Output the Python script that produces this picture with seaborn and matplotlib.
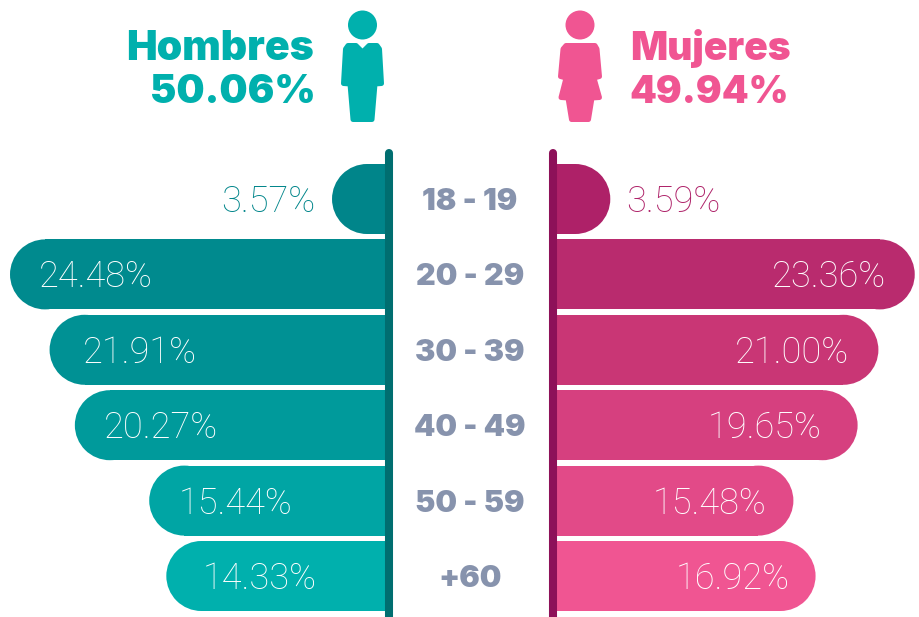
import numpy as np
import pandas as pd
import seaborn as sns
import matplotlib
matplotlib.use('Agg')
import matplotlib.pyplot as plt
from matplotlib.patches import Ellipse, Circle, Polygon

# data
ages = ['18 - 19', '20 - 29', '30 - 39', '40 - 49', '50 - 59', '+60']
hombres = [3.57, 24.48, 21.91, 20.27, 15.44, 14.33]
mujeres = [3.59, 23.36, 21.00, 19.65, 15.48, 16.92]
colors_h = ['#00858a', '#008a8e', '#009194', '#009a9b', '#00a5a4', '#00b0ad']
colors_m = ['#ae2168', '#b92b6e', '#c93675', '#d6407f', '#e24a88', '#f05592']
titles = [('Hombres', '50.06%'), ('Mujeres', '49.94%')]

W, H = 919, 617
PX = 15.4        # pixels per percent
STEP = 75.4      # pixels between rows
TOP = 150
RAD = 35
LEFT0 = 387      # zero of each side, hidden under the dark lines
RIGHT0 = 555
TEAL = '#00b0ad'
PINK = '#f05592'
GREY = '#8793ad'
LIGHT = dict(family='Roboto', weight='light', fontsize=26)
BOLD = dict(family='Inter', weight='black')

# how far the labels sit from the end of their bar, pixels
pad_h = [-17, 29, 33, 29, 30, 36]
pad_m = [16, -29, -29, -36, -27, -26]

df = pd.DataFrame({'age': ages, 'h': hombres, 'm': mujeres})

sns.set_theme(style='white')
fig = plt.figure(figsize=(W / 100, H / 100), dpi=100)


def make_ax(x0, x1):
    ax = fig.add_axes([x0 / W, 0, (x1 - x0) / W, (H - TOP) / H])
    ax.patch.set_alpha(0)
    return ax


def round_bars(ax, palette):
    # shorten each seaborn bar and put a half ellipse on its outer end
    r = RAD / PX
    for p, c in zip(list(ax.patches), palette):
        v = p.get_width()
        p.set_width(v - r)
        p.set_edgecolor('none')
        ax.add_patch(Ellipse((v - r, p.get_y() + p.get_height() / 2), 2 * r, p.get_height(),
                             fc=c, ec='none'))


ax_h = make_ax(0, LEFT0)
sns.barplot(df, y='age', x='h', hue='age', palette=colors_h, width=70 / STEP, saturation=1,
            legend=False, dodge=False, ax=ax_h)
ax_h.set_xlim(LEFT0 / PX, 0)

ax_m = make_ax(RIGHT0, W)
sns.barplot(df, y='age', x='m', hue='age', palette=colors_m, width=70 / STEP, saturation=1,
            legend=False, dodge=False, ax=ax_m)
ax_m.set_xlim(0, (W - RIGHT0) / PX)

ylim = ((H - 199) / STEP, -(199 - TOP) / STEP)
for ax in (ax_h, ax_m):
    ax.set_ylim(*ylim)
    ax.set_axis_off()

round_bars(ax_h, colors_h)
round_bars(ax_m, colors_m)

# value labels
for i, v in enumerate(hombres):
    ax_h.annotate(f'{v:.2f}%', (v, i), xytext=(pad_h[i], -3), textcoords='offset pixels',
                  ha='left' if i else 'right', va='center',
                  color='white' if i else colors_h[0], **LIGHT)
for i, v in enumerate(mujeres):
    ax_m.annotate(f'{v:.2f}%', (v, i), xytext=(pad_m[i], -3), textcoords='offset pixels',
                  ha='right' if i else 'left', va='center',
                  color='white' if i else colors_m[0], **LIGHT)

# age labels in the gap
for i, a in enumerate(ages):
    ax_h.annotate(a, (0, i), xytext=(83, -3), textcoords='offset pixels', annotation_clip=False,
                  ha='center', va='center', color=GREY, fontsize=22, **BOLD)

# overlay in pixel coordinates for the axis lines, titles and icons
ov = fig.add_axes([0, 0, 1, 1])
ov.set_xlim(0, W)
ov.set_ylim(H, 0)
ov.set_axis_off()
ov.patch.set_alpha(0)

ov.plot([389, 389], [153, 620], color='#006e70', lw=5.8, solid_capstyle='round', clip_on=False)
ov.plot([553, 553], [153, 620], color='#8d1159', lw=5.8, solid_capstyle='round', clip_on=False)

ov.text(314, 60, titles[0][0], ha='right', va='baseline', color=TEAL, fontsize=29.5, **BOLD)
ov.text(316, 103, titles[0][1], ha='right', va='baseline', color=TEAL, fontsize=28.5, **BOLD)
ov.text(630, 60, titles[1][0], ha='left', va='baseline', color=PINK, fontsize=28, **BOLD)
ov.text(629, 103, titles[1][1], ha='left', va='baseline', color=PINK, fontsize=27.5, **BOLD)

# hombre
ov.add_patch(Circle((362.5, 25), 14.5, fc=TEAL, ec='none'))
ov.add_patch(Polygon([(348, 45.5), (356, 45.5), (362.5, 52), (369, 45.5), (377, 45.5), (379.5, 49),
                      (381.5, 83.5), (375, 84), (372, 119.5), (353, 119.5), (350, 84), (343.5, 83.5),
                      (345.5, 49)],
                     fc=TEAL, ec=TEAL, lw=3.6, joinstyle='round'))
# mujer
ov.add_patch(Circle((580, 25), 14.5, fc=PINK, ec='none'))
ov.add_patch(Polygon([(566, 45.5), (595, 45.5), (597, 49), (599.5, 76.5), (594, 78), (599.5, 97.5),
                      (592, 98), (588.5, 119.5), (571.5, 119.5), (568, 98), (561, 97.5), (566, 78),
                      (560.5, 76.5), (563, 49)],
                     fc=PINK, ec=PINK, lw=3.6, joinstyle='round'))

fig.savefig('out.png', dpi=100)
